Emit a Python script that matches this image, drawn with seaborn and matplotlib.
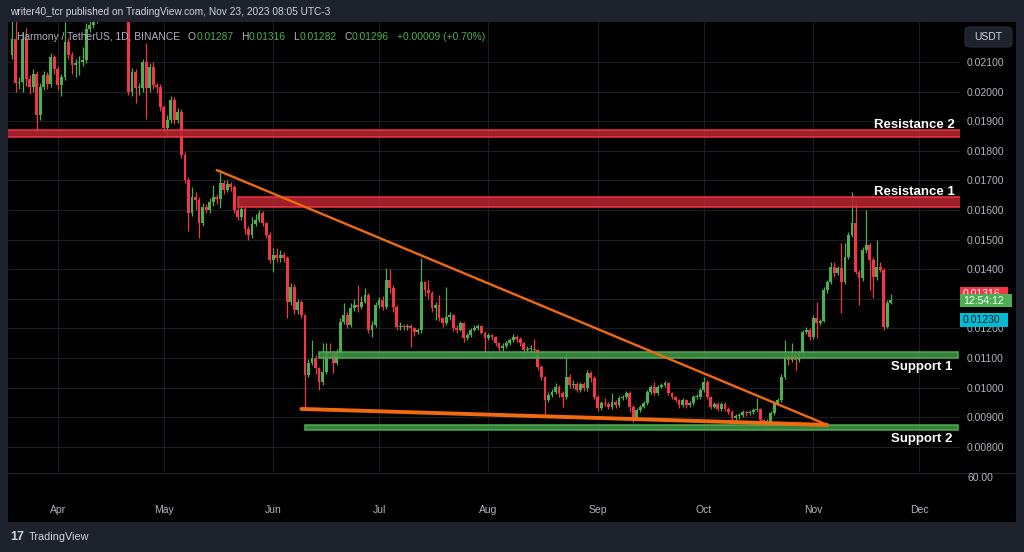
import numpy as np
import pandas as pd
import matplotlib
matplotlib.use("Agg")
import matplotlib.pyplot as plt
from matplotlib.patches import Rectangle, FancyBboxPatch
from matplotlib.lines import Line2D
from matplotlib.transforms import Bbox
import seaborn as sns

# ---------------- data (prices in units of 1e-5 USDT) ----------------
start_date = "2023-03-19"
first_open_e5 = 2124
close_e5 = [
    2178, 2029, 2032, 2178, 2043, 2016, 2059, 1921, 2016, 2056,
    2026, 2117, 2076, 2022, 2049, 2168, 2124, 2090, 2097, 2100,
    2107, 2211, 2225, 2242, 2259, 2290, 2330, 2380, 2420, 2460,
    2430, 2400, 2360, 1999, 2066, 2012, 2012, 2100, 2012, 2083,
    2022, 2016, 1948, 1877, 1904, 1972, 1904, 1931, 1786, 1701,
    1590, 1644, 1634, 1556, 1610, 1600, 1627, 1644, 1637, 1691,
    1668, 1688, 1678, 1600, 1576, 1603, 1536, 1516, 1553, 1566,
    1590, 1556, 1516, 1431, 1448, 1438, 1448, 1438, 1289, 1340,
    1262, 1289, 1245, 1043, 1083, 1100, 1066, 1019, 1053, 1117,
    1114, 1083, 1117, 1222, 1245, 1212, 1269, 1279, 1272, 1289,
    1313, 1195, 1212, 1279, 1296, 1272, 1364, 1337, 1272, 1205,
    1208, 1205, 1208, 1201, 1188, 1195, 1357, 1330, 1320, 1269,
    1279, 1235, 1218, 1239, 1245, 1201, 1195, 1218, 1168, 1178,
    1195, 1201, 1208, 1185, 1168, 1178, 1171, 1151, 1134, 1141,
    1151, 1161, 1171, 1164, 1151, 1127, 1130, 1130, 1127, 1070,
    1036, 958, 975, 985, 1002, 982, 968, 1036, 1009, 1012,
    992, 1012, 999, 1049, 1033, 968, 931, 948, 945, 935,
    952, 941, 965, 968, 982, 935, 897, 924, 935, 948,
    985, 1002, 982, 1002, 1009, 1016, 982, 968, 958, 941,
    958, 941, 948, 968, 968, 992, 1019, 968, 935, 945,
    928, 945, 928, 918, 897, 904, 907, 918, 914, 918,
    924, 928, 891, 881, 884, 914, 948, 958, 1036, 1104,
    1093, 1110, 1093, 1117, 1188, 1195, 1171, 1235, 1218, 1225,
    1330, 1357, 1408, 1387, 1404, 1357, 1441, 1516, 1556, 1391,
    1370, 1465, 1482, 1431, 1374, 1408, 1397, 1205, 1287, 1296,
]
high_e5 = [
    2240, 2240, 2050, 2200, 2215, 2055, 2075, 2070, 2030, 2070,
    2065, 2130, 2125, 2085, 2060, 2235, 2180, 2135, 2110, 2120,
    2150, 2230, 2250, 2270, 2290, 2320, 2360, 2420, 2480, 2520,
    2490, 2450, 2420, 2380, 2080, 2075, 2030, 2110, 2164, 2095,
    2100, 2030, 2025, 1955, 1920, 1985, 1980, 1945, 1940, 1795,
    1710, 1678, 1660, 1645, 1625, 1620, 1640, 1684, 1655, 1735,
    1700, 1700, 1695, 1685, 1610, 1615, 1610, 1545, 1575, 1585,
    1600, 1598, 1560, 1525, 1470, 1472, 1465, 1458, 1445, 1355,
    1350, 1300, 1295, 1250, 1095, 1161, 1110, 1070, 1150, 1150,
    1150, 1125, 1130, 1235, 1285, 1255, 1285, 1300, 1345, 1310,
    1335, 1320, 1225, 1290, 1305, 1310, 1404, 1400, 1345, 1280,
    1220, 1215, 1215, 1215, 1205, 1200, 1438, 1360, 1364, 1325,
    1290, 1313, 1240, 1340, 1255, 1250, 1210, 1225, 1222, 1185,
    1200, 1210, 1215, 1212, 1190, 1185, 1182, 1175, 1155, 1150,
    1158, 1168, 1180, 1178, 1170, 1155, 1140, 1145, 1165, 1130,
    1075, 1040, 985, 995, 1015, 1010, 990, 1117, 1045, 1025,
    1020, 1020, 1018, 1060, 1055, 1040, 975, 955, 965, 952,
    982, 958, 972, 975, 990, 990, 940, 930, 942, 955,
    992, 1010, 1019, 1010, 1015, 1022, 1020, 985, 972, 962,
    965, 962, 955, 975, 978, 1000, 1035, 1025, 972, 952,
    950, 952, 950, 935, 925, 912, 915, 925, 922, 925,
    930, 965, 932, 895, 895, 920, 955, 965, 1045, 1161,
    1115, 1151, 1120, 1125, 1195, 1205, 1200, 1245, 1289, 1232,
    1340, 1365, 1424, 1424, 1412, 1489, 1489, 1525, 1661, 1634,
    1398, 1475, 1600, 1490, 1440, 1499, 1424, 1405, 1295, 1316,
]
low_e5 = [
    2110, 2000, 2010, 1999, 2020, 1992, 2000, 1863, 1905, 2005,
    2010, 2015, 2060, 2005, 1985, 2040, 2110, 2060, 2050, 2055,
    2085, 2095, 2200, 2215, 2230, 2245, 2280, 2320, 2370, 2400,
    2400, 2370, 2300, 1990, 1985, 1962, 1990, 2000, 1907, 2000,
    2010, 1995, 1935, 1860, 1846, 1895, 1890, 1895, 1775, 1690,
    1530, 1580, 1600, 1506, 1545, 1590, 1590, 1615, 1620, 1607,
    1655, 1660, 1665, 1590, 1565, 1565, 1520, 1500, 1505, 1545,
    1560, 1545, 1505, 1420, 1391, 1425, 1425, 1425, 1235, 1280,
    1250, 1250, 1235, 935, 1035, 1075, 1045, 992, 1010, 1045,
    1100, 1049, 1075, 1110, 1215, 1200, 1205, 1260, 1255, 1265,
    1285, 1185, 1171, 1205, 1270, 1262, 1265, 1320, 1255, 1195,
    1195, 1195, 1195, 1137, 1175, 1180, 1185, 1310, 1300, 1255,
    1230, 1225, 1205, 1210, 1230, 1190, 1185, 1190, 1155, 1160,
    1170, 1190, 1195, 1180, 1120, 1160, 1160, 1140, 1125, 1125,
    1135, 1145, 1155, 1155, 1140, 1115, 1120, 1120, 1115, 1060,
    1025, 907, 950, 968, 978, 970, 935, 960, 1000, 1000,
    985, 985, 990, 990, 1020, 960, 920, 925, 938, 928,
    928, 932, 935, 958, 962, 918, 884, 890, 918, 930,
    942, 978, 975, 975, 998, 1003, 975, 960, 950, 930,
    935, 932, 935, 942, 960, 962, 985, 960, 928, 930,
    920, 922, 920, 910, 888, 890, 895, 900, 905, 908,
    912, 918, 884, 872, 870, 876, 908, 940, 950, 1030,
    1075, 1085, 1059, 1085, 1110, 1180, 1160, 1165, 1168, 1210,
    1220, 1320, 1350, 1375, 1380, 1252, 1350, 1435, 1510, 1385,
    1279, 1360, 1455, 1330, 1303, 1365, 1390, 1195, 1200, 1282,
]

price_ticks = [0.021, 0.020, 0.019, 0.018, 0.017, 0.016, 0.015,
               0.014, 0.013, 0.012, 0.011, 0.010, 0.009, 0.008]
hidden_tick = 0.013   # covered by the last-price tags in the reference
month_dates = ["2023-04-01", "2023-05-01", "2023-06-01", "2023-07-01", "2023-08-01",
               "2023-09-01", "2023-10-01", "2023-11-01", "2023-12-01"]
month_labels = ["Apr", "May", "Jun", "Jul", "Aug", "Sep", "Oct", "Nov", "Dec"]

zone_names = ["Resistance 2", "Resistance 1", "Support 1", "Support 2"]
zone_lo = [0.01846, 0.01610, 0.01100, 0.00857]
zone_hi = [0.01870, 0.01644, 0.01120, 0.00874]
zone_start = ["2023-03-17", "2023-05-22", "2023-06-14", "2023-06-10"]
zone_end = ["2023-12-20", "2023-12-20", "2023-12-12", "2023-12-12"]
zone_kind = ["res", "res", "sup", "sup"]
label_date = "2023-12-11"

trend_name = ["upper", "upper", "lower", "lower"]
trend_dates = ["2023-05-16", "2023-11-05", "2023-06-09", "2023-11-05"]
trend_prices = [0.01735, 0.00874, 0.00928, 0.00874]

ohlc_legend = [("O", "0.01287"), ("H", "0.01316"), ("L", "0.01282"),
               ("C", "0.01296"), ("", "+0.00009 (+0.70%)")]

# ---------------- style ----------------
sns.set_theme(style="dark")
plt.rcParams['font.family'] = ['Liberation Sans', 'DejaVu Sans']

UP = '#4caf50'
DOWN = '#f23645'
TXT = '#b2b5be'
PANEL = '#1e222d'
GRID = '#1a1d25'
ORANGE = '#f26a0f'

W, H = 1024, 552
fig = plt.figure(figsize=(W / 100, H / 100), dpi=100, facecolor=PANEL)


def fx(px):
    return px / W


def fy(py):
    return 1 - py / H


bg = fig.add_axes([fx(8), fy(522), fx(1016) - fx(8), fy(22) - fy(522)])
bg.set_facecolor('black')
bg.set_xticks([])
bg.set_yticks([])
for s in bg.spines.values():
    s.set_visible(False)
bg.set_zorder(-5)

ax = fig.add_axes([fx(8), fy(472), fx(960) - fx(8), fy(22) - fy(472)])
ax.set_facecolor('black')
for s in ax.spines.values():
    s.set_visible(False)

# ---------------- candles ----------------
t0 = pd.Timestamp(start_date)
dates = pd.date_range(start_date, periods=len(close_e5), freq="D")
df = pd.DataFrame({"date": dates,
                   "close": np.array(close_e5) * 1e-5,
                   "high": np.array(high_e5) * 1e-5,
                   "low": np.array(low_e5) * 1e-5})
df["open"] = df["close"].shift(1)
df.loc[0, "open"] = first_open_e5 * 1e-5
df["x"] = (df["date"] - t0).dt.days
df["up"] = df["close"] >= df["open"]
colors = np.where(df["up"], UP, DOWN)

body_lo = np.minimum(df["open"], df["close"])
body_h = np.maximum(np.abs(df["close"] - df["open"]), 0.000025)
ax.vlines(df["x"], df["low"], df["high"], colors=colors, lw=0.9, zorder=2)
ax.bar(df["x"], body_h, bottom=body_lo, width=0.8, color=colors, lw=0, zorder=3)


def dx(d):
    return (pd.Timestamp(d) - t0).days


# ---------------- zones ----------------
for name, lo, hi, s, e, kind in zip(zone_names, zone_lo, zone_hi, zone_start, zone_end, zone_kind):
    if kind == "res":
        fc, ec = '#b3242f', '#f23645'
    else:
        fc, ec = '#3f8f43', '#4caf50'
    ax.add_patch(Rectangle((dx(s), lo), dx(e) - dx(s), hi - lo, facecolor=fc, edgecolor=ec,
                           lw=1.2, alpha=0.9, zorder=4))
    if kind == "res":
        ax.annotate(name, xy=(dx(label_date), hi), xytext=(0, 1.5), textcoords='offset points',
                    ha='right', va='baseline', color='white', fontsize=9.5, fontweight='bold',
                    zorder=6, annotation_clip=False)
    else:
        ax.annotate(name, xy=(dx(label_date) - 0.6, lo), xytext=(0, -2.5), textcoords='offset points',
                    ha='right', va='top', color='white', fontsize=9.5, fontweight='bold',
                    zorder=6, annotation_clip=False)

# ---------------- trend lines ----------------
tdf = pd.DataFrame({"line": trend_name,
                    "x": [dx(d) for d in trend_dates],
                    "price": trend_prices})
sns.lineplot(data=tdf[tdf.line == "upper"], x="x", y="price", ax=ax, color=ORANGE,
             lw=1.7, legend=False, zorder=5)
sns.lineplot(data=tdf[tdf.line == "lower"], x="x", y="price", ax=ax, color=ORANGE,
             lw=2.8, legend=False, zorder=5)

# ---------------- axes ----------------
ax.set_xlim(-1.13, 268.6)
ax.set_ylim(0.00715, 0.02235)
ax.set_xlabel("")
ax.set_ylabel("")
ax.set_yticks(price_ticks)
ax.set_yticklabels(["" if abs(v - hidden_tick) < 1e-9 else f"{v:.5f}" for v in price_ticks])
ax.yaxis.tick_right()
ax.set_xticks([dx(d) for d in month_dates])
ax.set_xticklabels(month_labels)
ax.tick_params(axis='x', length=0, pad=23.5, colors=TXT, labelsize=7.5)
ax.tick_params(axis='y', length=0, pad=5, colors=TXT, labelsize=7.5)
ax.grid(True, color=GRID, lw=0.8)
ax.set_axisbelow(True)

# lower pane separator and label
fig.add_artist(Line2D([fx(8), fx(1016)], [fy(472.5), fy(472.5)], color='#22262f', lw=0.8))
fig.text(fx(967), fy(478), "60.00", color=TXT, fontsize=7.5, va='center', ha='left')

# ---------------- header / legend / footer ----------------
fig.text(fx(10), fy(12), "writer40_tcr published on TradingView.com, Nov 23, 2023 08:05 UTC-3",
         color='#d1d4dc', fontsize=7.3, va='center', ha='left')

t = fig.text(fx(17), fy(42), "Harmony / TetherUS, 1D, BINANCE", color=TXT,
             fontsize=7.4, va='bottom', ha='left', zorder=8)
for key, val in ohlc_legend:
    gap = 5.5
    if key:
        t = ax.annotate(key, xy=(1, 0), xycoords=t, xytext=(gap, 0), textcoords='offset points',
                        va='bottom', ha='left', color=TXT, fontsize=7.4, zorder=8)
        gap = 0.3
    t = ax.annotate(val, xy=(1, 0), xycoords=t, xytext=(gap, 0), textcoords='offset points',
                    va='bottom', ha='left', color=UP, fontsize=7.4, zorder=8)

fig.text(fx(10), fy(537), "17", color='#d1d4dc', fontsize=9, fontweight='heavy',
         va='center', ha='left')
fig.text(fx(29), fy(537), "TradingView", color='#d1d4dc', fontsize=7.8, va='center', ha='left')

# USDT box
fig.add_artist(FancyBboxPatch((fx(965), fy(47)), fx(1012) - fx(965), fy(27) - fy(47),
                              boxstyle="round,pad=0,rounding_size=0.006",
                              transform=fig.transFigure, facecolor='#1e222d',
                              edgecolor='#2a2e39', lw=0.8, zorder=5))
fig.text(fx(988.5), fy(37), "USDT", color='#d1d4dc', fontsize=7.5, va='center',
         ha='center', zorder=6)


# price tags
def tag(y_top, y_bot, x_r, text, fc, tc, visible_bot=None):
    fig.add_artist(Rectangle((fx(960), fy(y_bot)), fx(x_r) - fx(960), fy(y_top) - fy(y_bot),
                             transform=fig.transFigure, facecolor=fc, edgecolor='none', zorder=6))
    tt = fig.text(fx(963), fy((y_top + y_bot) / 2), text, color=tc, fontsize=7.5,
                  va='center', ha='left', zorder=7)
    if visible_bot is not None:
        clip = Bbox.from_extents(960, H - visible_bot, x_r, H - y_top)
        tt.set_clip_box(clip)
        tt.set_clip_on(True)


tag(287, 301, 1008, "0.01316", DOWN, 'white', visible_bot=294)
tag(294, 307, 1012, "12:54:12", UP, 'white')
tag(313, 327, 1008, "0.01230", '#00bcd4', '#131722')

fig.savefig("out.png", dpi=100, facecolor=fig.get_facecolor())
